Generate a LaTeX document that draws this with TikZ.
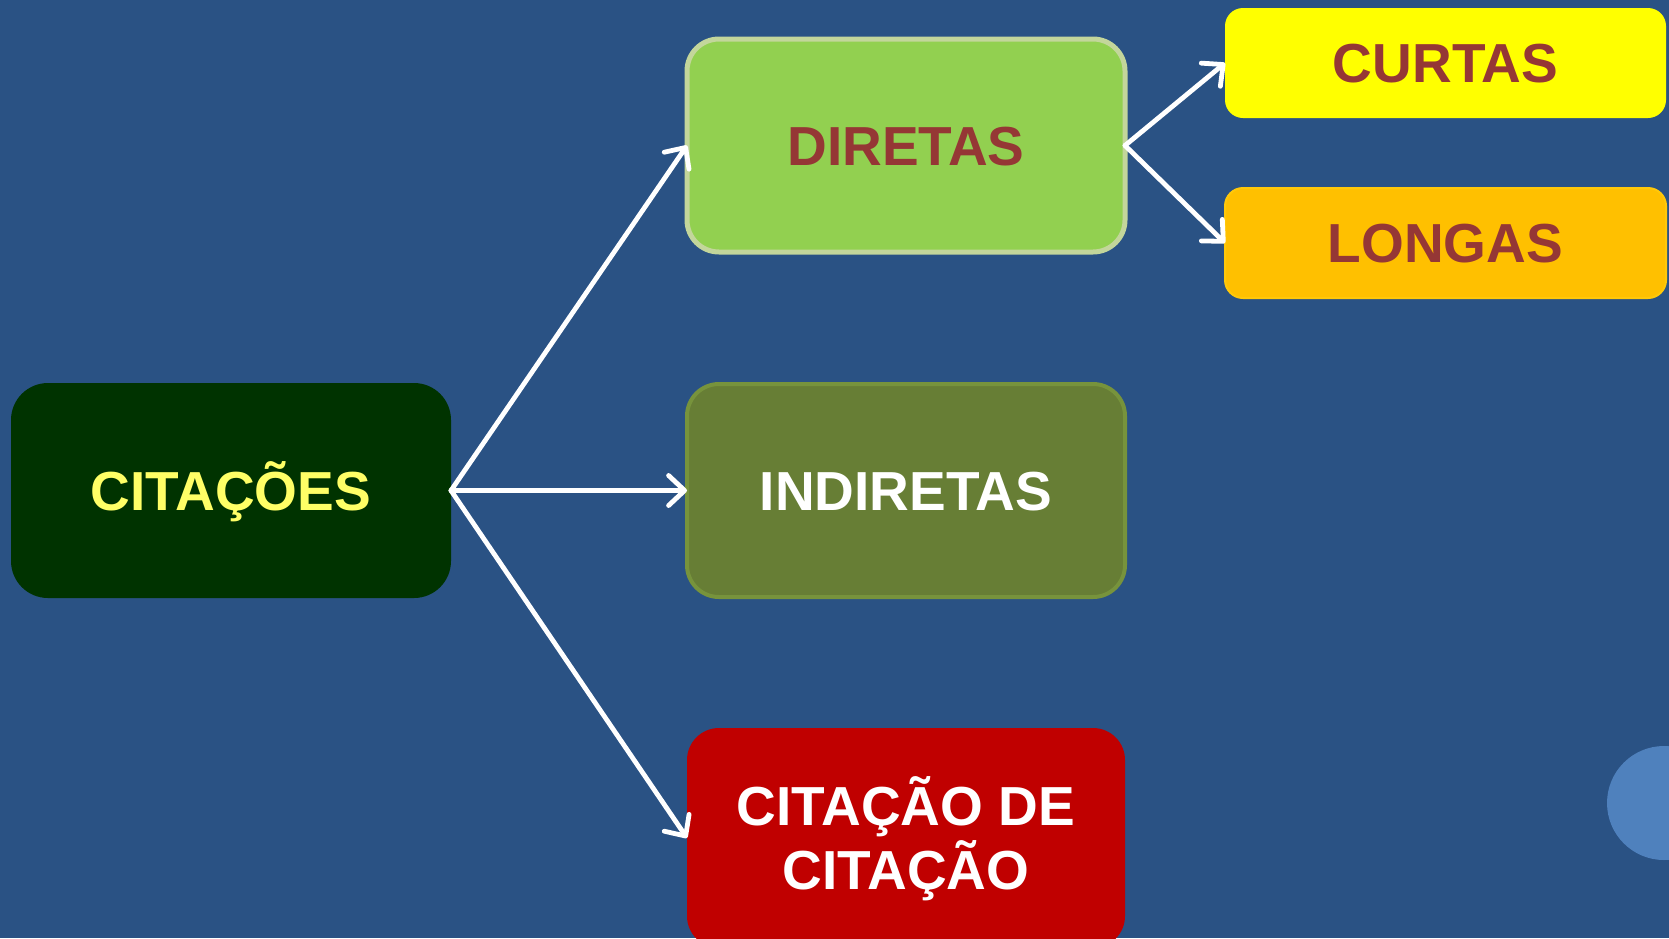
\documentclass[tikz,border=0pt]{standalone}
\usepackage{fontspec}
\setmainfont{Liberation Sans}
\usetikzlibrary{arrows.meta}
\definecolor{bg}{RGB}{42,82,132}
\definecolor{darkg}{RGB}{0,51,0}
\definecolor{lightyel}{RGB}{255,255,102}
\definecolor{pureyel}{RGB}{255,255,0}
\definecolor{dirfill}{RGB}{146,208,80}
\definecolor{dirborder}{RGB}{195,214,155}
\definecolor{indfill}{RGB}{103,126,53}
\definecolor{indborder}{RGB}{119,147,60}
\definecolor{brownred}{RGB}{149,55,53}
\definecolor{redbox}{RGB}{192,0,0}
\definecolor{orangebox}{RGB}{255,192,0}
\definecolor{orangeborder}{RGB}{255,200,10}
\definecolor{circblue}{RGB}{79,129,189}
\tikzset{
  box/.style={rectangle, rounded corners=32pt, minimum width=438pt, minimum height=213pt,
    inner sep=0pt, outer sep=0pt, font=\fontsize{55}{64}\selectfont\bfseries,
    text height=39.4pt, text depth=0pt, align=center},
  smallbox/.style={box, rounded corners=18pt, minimum width=441pt, minimum height=110pt},
  link/.style={draw=white, line width=4.8pt, line cap=round,
    -{Straight Barb[length=16pt, width=30pt, line cap=round, line join=round]}},
}
\begin{document}
\begin{tikzpicture}[x=1pt, y=-1pt]
\useasboundingbox (0,0) rectangle (1669,938);
\clip (0,0) rectangle (1669,938);
\fill[bg] (0,0) rectangle (1669,938);
\fill[circblue] (1664,803) circle[radius=57pt];

\node[box, rounded corners=37pt, minimum width=440pt, minimum height=215pt, fill=darkg, text=lightyel] (cit) at (231,490.5) {CITAÇÕES};
\node[box, fill=dirfill, draw=dirborder, line width=5pt, text=brownred] (dir) at (906,145.5) {DIRETAS};
\node[box, fill=indfill, draw=indborder, line width=4pt, text=white] (ind) at (906,490.5) {INDIRETAS};
\node[box, minimum height=220pt, fill=redbox, text=white, text height=103.4pt] (cdc) at (906,838) {CITAÇÃO DE\\CITAÇÃO};
\node[smallbox, fill=pureyel, text=brownred] (cur) at (1445.5,63) {CURTAS};
\node[smallbox, fill=orangebox, draw=orangeborder, line width=2pt, text=brownred] (lon) at (1445.5,243) {LONGAS};

\draw[link] (cit.east) -- (dir.west);
\draw[link] (cit.east) -- (ind.west);
\draw[link] (cit.east) -- (cdc.west);
\draw[link] (dir.east) -- (cur.west);
\draw[link] (dir.east) -- (lon.west);
\end{tikzpicture}
\end{document}
